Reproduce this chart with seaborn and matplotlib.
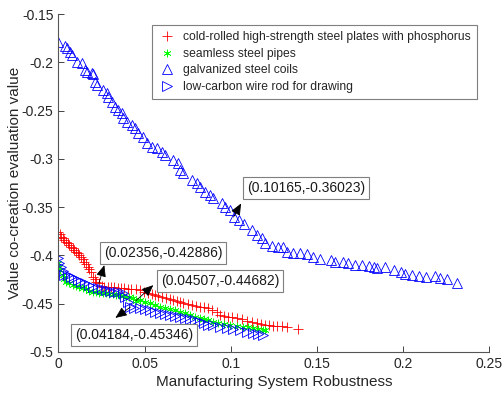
import matplotlib
matplotlib.use("Agg")
import matplotlib.pyplot as plt
import seaborn as sns
import pandas as pd

# data
red_x = [0.0, 0.0008, 0.0016, 0.0025, 0.0035, 0.0045, 0.0054, 0.0064, 0.0074, 0.0083,
         0.0093, 0.0102, 0.0112, 0.0122, 0.0132, 0.0141, 0.0151, 0.0160, 0.0170, 0.0180,
         0.0190, 0.0200, 0.0210, 0.0219, 0.0236, 0.0255, 0.0267, 0.0287, 0.0306, 0.0325,
         0.0344, 0.0364, 0.0383, 0.0402, 0.0422, 0.0448, 0.0474, 0.0498, 0.0522, 0.0541,
         0.0561, 0.0580, 0.0600, 0.0624, 0.0648, 0.0667, 0.0687, 0.0706, 0.0725, 0.0750,
         0.0774, 0.0798, 0.0822, 0.0846, 0.0870, 0.0890, 0.0919, 0.0938, 0.0962, 0.0986,
         0.1010, 0.1035, 0.1064, 0.1093, 0.1122, 0.1151, 0.1175, 0.1199, 0.1223, 0.1247,
         0.1271, 0.1296, 0.1325, 0.1392]
red_y = [-0.3753, -0.3780, -0.3805, -0.3822, -0.3840, -0.3858, -0.3874, -0.3890, -0.3909, -0.3925,
         -0.3943, -0.3960, -0.3977, -0.3994, -0.4012, -0.4038, -0.4064, -0.4090, -0.4116, -0.4142,
         -0.4168, -0.4220, -0.4245, -0.4271, -0.4289, -0.4315, -0.4323, -0.4325, -0.4328, -0.4330,
         -0.4333, -0.4337, -0.4340, -0.4343, -0.4347, -0.4352, -0.4357, -0.4374, -0.4391, -0.4400,
         -0.4409, -0.4418, -0.4426, -0.4440, -0.4453, -0.4460, -0.4468, -0.4478, -0.4488, -0.4500,
         -0.4512, -0.4521, -0.4530, -0.4538, -0.4546, -0.4565, -0.4590, -0.4616, -0.4625, -0.4634,
         -0.4642, -0.4650, -0.4662, -0.4675, -0.4688, -0.4702, -0.4711, -0.4720, -0.4725, -0.4730,
         -0.4733, -0.4736, -0.4738, -0.4764]

green_x = [0.0, 0.0006, 0.0012, 0.0025, 0.0035, 0.0045, 0.0064, 0.0083, 0.0102, 0.0122,
           0.0141, 0.0160, 0.0180, 0.0200, 0.0219, 0.0238, 0.0258, 0.0277, 0.0296, 0.0316,
           0.0335, 0.0354, 0.0374, 0.0393, 0.0412, 0.0431, 0.0451, 0.0474, 0.0503, 0.0532,
           0.0561, 0.0590, 0.0619, 0.0648, 0.0677, 0.0706, 0.0735, 0.0764, 0.0793, 0.0822,
           0.0846, 0.0870, 0.0899, 0.0928, 0.0962, 0.0996, 0.1035, 0.1073, 0.1102, 0.1131,
           0.1160, 0.1189, 0.1200]
green_y = [-0.4080, -0.4120, -0.4155, -0.4202, -0.4240, -0.4271, -0.4290, -0.4306, -0.4318, -0.4330,
           -0.4340, -0.4352, -0.4364, -0.4375, -0.4380, -0.4385, -0.4388, -0.4392, -0.4398, -0.4404,
           -0.4410, -0.4415, -0.4420, -0.4426, -0.4432, -0.4437, -0.4468, -0.4461, -0.4478, -0.4495,
           -0.4512, -0.4530, -0.4543, -0.4557, -0.4570, -0.4582, -0.4599, -0.4616, -0.4633, -0.4650,
           -0.4659, -0.4668, -0.4685, -0.4702, -0.4711, -0.4720, -0.4728, -0.4737, -0.4746, -0.4755,
           -0.4763, -0.4771, -0.4775]

coil_x = [0.0, 0.0039, 0.0049, 0.0068, 0.0078, 0.0107, 0.0136, 0.0155, 0.0165, 0.0194,
          0.0203, 0.0213, 0.0223, 0.0261, 0.0281, 0.0290, 0.0310, 0.0329, 0.0348, 0.0368,
          0.0377, 0.0397, 0.0426, 0.0445, 0.0464, 0.0493, 0.0513, 0.0542, 0.0571, 0.0600,
          0.0619, 0.0667, 0.0696, 0.0706, 0.0725, 0.0774, 0.0803, 0.0822, 0.0851, 0.0880,
          0.0899, 0.0948, 0.0967, 0.0996, 0.1017, 0.1050, 0.1080, 0.1122, 0.1150, 0.1180,
          0.1200, 0.1238, 0.1276, 0.1305, 0.1328, 0.1363, 0.1400, 0.1444, 0.1479, 0.1520,
          0.1580, 0.1605, 0.1650, 0.1680, 0.1720, 0.1760, 0.1800, 0.1830, 0.1847, 0.1895,
          0.1947, 0.1990, 0.2010, 0.2050, 0.2090, 0.2133, 0.2185, 0.2214, 0.2253, 0.2314]
coil_y = [-0.1787, -0.1831, -0.1855, -0.1890, -0.1924, -0.1994, -0.2010, -0.2080, -0.2097, -0.2108,
          -0.2121, -0.2201, -0.2235, -0.2287, -0.2321, -0.2356, -0.2408, -0.2460, -0.2494, -0.2528,
          -0.2580, -0.2615, -0.2649, -0.2683, -0.2735, -0.2770, -0.2839, -0.2874, -0.2890, -0.2925,
          -0.2960, -0.3011, -0.3046, -0.3115, -0.3149, -0.3218, -0.3253, -0.3288, -0.3340, -0.3374,
          -0.3408, -0.3460, -0.3495, -0.3529, -0.3602, -0.3630, -0.3670, -0.3736, -0.3788, -0.3820,
          -0.3870, -0.3900, -0.3915, -0.3915, -0.3960, -0.3970, -0.3980, -0.3990, -0.4020, -0.4040,
          -0.4047, -0.4064, -0.4064, -0.4080, -0.4100, -0.4100, -0.4110, -0.4116, -0.4133, -0.4120,
          -0.4150, -0.4168, -0.4195, -0.4200, -0.4210, -0.4226, -0.4210, -0.4236, -0.4240, -0.4288]

rod_x = [0.0, 0.0006, 0.0016, 0.0025, 0.0035, 0.0054, 0.0074, 0.0093, 0.0112, 0.0132,
         0.0156, 0.0180, 0.0204, 0.0228, 0.0253, 0.0277, 0.0301, 0.0325, 0.0349, 0.0373,
         0.0388, 0.0402, 0.0418, 0.0441, 0.0474, 0.0503, 0.0532, 0.0561, 0.0590, 0.0619,
         0.0648, 0.0677, 0.0706, 0.0735, 0.0764, 0.0793, 0.0822, 0.0846, 0.0870, 0.0899,
         0.0938, 0.0977, 0.1016, 0.1054, 0.1093, 0.1131, 0.1160, 0.1189]
rod_y = [-0.4030, -0.4080, -0.4116, -0.4160, -0.4200, -0.4205, -0.4220, -0.4236, -0.4253, -0.4271,
         -0.4288, -0.4306, -0.4323, -0.4340, -0.4348, -0.4357, -0.4366, -0.4375, -0.4383, -0.4390,
         -0.4434, -0.4478, -0.4535, -0.4540, -0.4546, -0.4555, -0.4564, -0.4581, -0.4598, -0.4607,
         -0.4616, -0.4625, -0.4634, -0.4647, -0.4660, -0.4672, -0.4685, -0.4703, -0.4720, -0.4725,
         -0.4740, -0.4755, -0.4763, -0.4771, -0.4790, -0.4806, -0.4815, -0.4823]

labels = ['cold-rolled high-strength steel plates with phosphorus',
          'seamless steel pipes',
          'galvanized steel coils',
          'low-carbon wire rod for drawing']

# data tips: (point, text position, arrow head position)
tips = [((0.02356, -0.42886), (0.0607, -0.3977), (0.0267, -0.4101)),
        ((0.04507, -0.44682), (0.0938, -0.4267), (0.0551, -0.4308)),
        ((0.04184, -0.45346), (0.0439, -0.4826), (0.0331, -0.4647)),
        ((0.10165, -0.36023), (0.1437, -0.3303), (0.1060, -0.3462))]

sns.set_style('white')
plt.rcParams['font.family'] = ['Liberation Sans', 'DejaVu Sans']

fig = plt.figure(figsize=(5.03, 3.97), dpi=100)
ax = fig.add_axes([0.1159, 0.1134, 0.8569, 0.8513])

common = dict(ax=ax, estimator=None, sort=False, linestyle='none')
sns.lineplot(x=red_x, y=red_y, color='red', marker='+', markersize=6.5, mew=0.6,
             mec='red', label=labels[0], **common)
sns.lineplot(x=green_x, y=green_y, color='#00ff00', marker=(6, 2, 0), markersize=5.5, mew=0.5,
             mec='#00ff00', label=labels[1], **common)
sns.lineplot(x=coil_x, y=coil_y, color='blue', marker='^', markersize=6.5, mew=0.6,
             mec='blue', mfc='none', label=labels[2], **common)
sns.lineplot(x=rod_x, y=rod_y, color='blue', marker='>', markersize=6.5, mew=0.6,
             mec='blue', mfc='none', label=labels[3], **common)

for pt, txt, head in tips:
    ax.annotate('', xy=head, xytext=pt,
                arrowprops=dict(arrowstyle='-|>,head_length=0.7,head_width=0.3',
                                color='k', lw=0.6, shrinkA=0, shrinkB=0))
    ax.text(txt[0], txt[1], f'({pt[0]:.5f},{pt[1]:.5f})', ha='center', va='center',
            fontsize=10, color='#1a1a1a',
            bbox=dict(boxstyle='square,pad=0.3', fc='white', ec='#7f7f7f', lw=0.8))

ax.set_xlim(0, 0.25)
ax.set_ylim(-0.5, -0.15)
ax.set_xticks([0, 0.05, 0.1, 0.15, 0.2, 0.25])
ax.set_xticklabels(['0', '0.05', '0.1', '0.15', '0.2', '0.25'])
ax.set_yticks([-0.5, -0.45, -0.4, -0.35, -0.3, -0.25, -0.2, -0.15])
ax.set_yticklabels(['-0.5', '-0.45', '-0.4', '-0.35', '-0.3', '-0.25', '-0.2', '-0.15'])
ax.tick_params(direction='in', length=4, width=0.6, colors='#262626', labelsize=10,
               left=True, bottom=True)
sns.despine(ax=ax)
for s in ['left', 'bottom']:
    ax.spines[s].set_color('#555555')
    ax.spines[s].set_linewidth(0.8)

ax.set_xlabel('Manufacturing System Robustness', fontsize=11, color='#262626', labelpad=3)
ax.set_ylabel('Value co-creation evaluation value', fontsize=11, color='#262626', labelpad=0)

leg = ax.legend(loc='upper right', bbox_to_anchor=(0.971, 0.967), borderaxespad=0,
                fontsize=8.7, frameon=True, fancybox=False, framealpha=1,
                edgecolor='#7f7f7f', handlelength=1.6, handletextpad=0.5,
                labelspacing=0.38, borderpad=0.5)
leg.get_frame().set_linewidth(0.8)

plt.savefig('out.png', dpi=100)
